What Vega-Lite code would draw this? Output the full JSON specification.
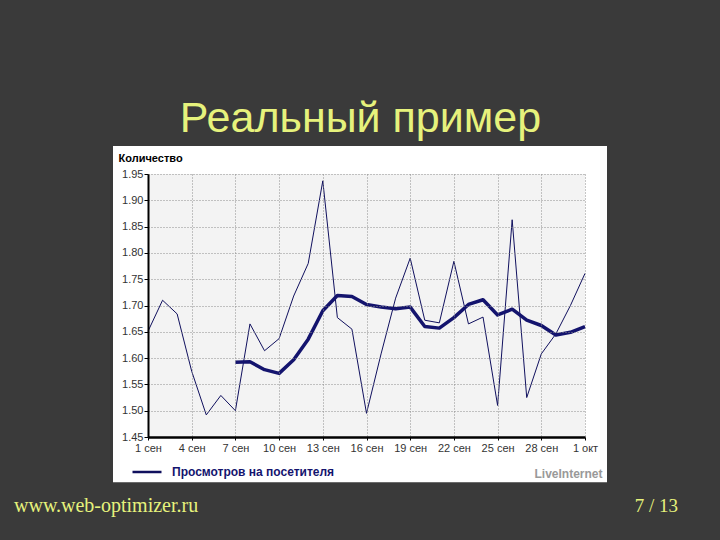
{
  "$schema": "https://vega.github.io/schema/vega-lite/v6.json",
  "width": 437,
  "height": 263,
  "autosize": {"type": "none"},
  "padding": {"left": 148, "top": 174, "right": 135, "bottom": 103},
  "background": "#3a3a3a",
  "title": {
    "text": "Реальный пример",
    "font": "Liberation Sans",
    "fontSize": 43,
    "fontWeight": "normal",
    "color": "#e6f27c",
    "anchor": "middle",
    "dx": -6,
    "offset": -29,
    "baseline": "alphabetic"
  },
  "config": {"view": {"stroke": null}, "axis": {"labelOverlap": false}},
  "datasets": {
    "stats": [
      {"date": "2008-09-01", "views": 1.651, "avg": null},
      {"date": "2008-09-02", "views": 1.710, "avg": null},
      {"date": "2008-09-03", "views": 1.684, "avg": null},
      {"date": "2008-09-04", "views": 1.575, "avg": null},
      {"date": "2008-09-05", "views": 1.492, "avg": null},
      {"date": "2008-09-06", "views": 1.529, "avg": null},
      {"date": "2008-09-07", "views": 1.500, "avg": 1.592},
      {"date": "2008-09-08", "views": 1.665, "avg": 1.593},
      {"date": "2008-09-09", "views": 1.614, "avg": 1.578},
      {"date": "2008-09-10", "views": 1.637, "avg": 1.571},
      {"date": "2008-09-11", "views": 1.718, "avg": 1.597},
      {"date": "2008-09-12", "views": 1.780, "avg": 1.636},
      {"date": "2008-09-13", "views": 1.937, "avg": 1.690},
      {"date": "2008-09-14", "views": 1.677, "avg": 1.719},
      {"date": "2008-09-15", "views": 1.655, "avg": 1.717},
      {"date": "2008-09-16", "views": 1.495, "avg": 1.702},
      {"date": "2008-09-17", "views": 1.608, "avg": 1.697},
      {"date": "2008-09-18", "views": 1.714, "avg": 1.694},
      {"date": "2008-09-19", "views": 1.790, "avg": 1.697},
      {"date": "2008-09-20", "views": 1.672, "avg": 1.660},
      {"date": "2008-09-21", "views": 1.667, "avg": 1.657},
      {"date": "2008-09-22", "views": 1.784, "avg": 1.677},
      {"date": "2008-09-23", "views": 1.665, "avg": 1.702},
      {"date": "2008-09-24", "views": 1.678, "avg": 1.711},
      {"date": "2008-09-25", "views": 1.510, "avg": 1.682},
      {"date": "2008-09-26", "views": 1.863, "avg": 1.693},
      {"date": "2008-09-27", "views": 1.525, "avg": 1.672},
      {"date": "2008-09-28", "views": 1.608, "avg": 1.662},
      {"date": "2008-09-29", "views": 1.646, "avg": 1.644},
      {"date": "2008-09-30", "views": 1.700, "avg": 1.649},
      {"date": "2008-10-01", "views": 1.761, "avg": 1.660}
    ]
  },
  "layer": [
    {
      "data": {"values": [{}]},
      "mark": {"type": "rect", "fill": "#ffffff"},
      "encoding": {
        "x": {"datum": {"year": 2008, "month": 8, "date": 29, "hours": 14, "minutes": 20, "utc": true}, "type": "temporal",
              "scale": {"type": "utc", "domain": [{"year": 2008, "month": 9, "date": 1, "utc": true}, {"year": 2008, "month": 10, "date": 1, "utc": true}], "nice": false},
          "axis": {
            "values": [
              {"year": 2008, "month": 9, "date": 1, "utc": true},
              {"year": 2008, "month": 9, "date": 4, "utc": true},
              {"year": 2008, "month": 9, "date": 7, "utc": true},
              {"year": 2008, "month": 9, "date": 10, "utc": true},
              {"year": 2008, "month": 9, "date": 13, "utc": true},
              {"year": 2008, "month": 9, "date": 16, "utc": true},
              {"year": 2008, "month": 9, "date": 19, "utc": true},
              {"year": 2008, "month": 9, "date": 22, "utc": true},
              {"year": 2008, "month": 9, "date": 25, "utc": true},
              {"year": 2008, "month": 9, "date": 28, "utc": true},
              {"year": 2008, "month": 10, "date": 1, "utc": true}
            ],
            "tickCount": 40,
            "labelExpr": "utcdate(datum.value) + (utcmonth(datum.value) == 8 ? ' сен' : ' окт')",
            "labelFlush": false,
            "labelOverlap": false,
            "labelFont": "Liberation Sans",
            "labelFontSize": 11,
            "labelColor": "#333333",
            "labelPadding": 2,
            "grid": true,
            "gridColor": "#8c8c8c",
            "gridDash": [1, 2],
            "gridWidth": 1,
            "domainColor": "#000000",
            "domainWidth": 2.5,
            "tickColor": "#000000",
            "tickSize": 3,
            "tickWidth": 1,
            "title": "LiveInternet",
            "titleX": 454,
            "titleY": 40,
            "titleAlign": "right",
            "titleAnchor": null,
            "titleBaseline": "alphabetic",
            "titleFont": "Liberation Sans",
            "titleFontSize": 12,
            "titleFontWeight": "bold",
            "titleColor": "#999999",
            "zindex": 1
          }
        },
        "x2": {"datum": {"year": 2008, "month": 10, "date": 2, "hours": 12, "minutes": 15, "utc": true}},
        "y": {"datum": 2.003, "type": "quantitative", "scale": {"domain": [1.45, 1.95], "nice": false, "zero": false},
          "axis": {
            "values": [1.45, 1.5, 1.55, 1.6, 1.65, 1.7, 1.75, 1.8, 1.85, 1.9, 1.95],
            "tickCount": 40,
            "format": ".2f",
            "labelOverlap": false,
            "labelFont": "Liberation Sans",
            "labelFontSize": 11,
            "labelColor": "#333333",
            "labelPadding": 1,
            "grid": true,
            "gridColor": "#8c8c8c",
            "gridDash": [1, 2],
            "gridWidth": 1,
            "domainColor": "#000000",
            "domainWidth": 2,
            "tickColor": "#000000",
            "tickSize": 4,
            "tickWidth": 1,
            "title": "Количество",
            "titleAngle": 0,
            "titleAlign": "left",
            "titleAnchor": null,
            "titleBaseline": "alphabetic",
            "titleX": -30,
            "titleY": -13,
            "titleFont": "Liberation Sans",
            "titleFontSize": 11,
            "titleFontWeight": "bold",
            "titleColor": "#000000",
            "zindex": 1
          }
        },
        "y2": {"datum": 1.364}
      }
    },
    {
      "data": {"values": [{}]},
      "mark": {"type": "rect", "fill": "#f3f3f3"},
      "encoding": {
        "x": {"datum": {"year": 2008, "month": 9, "date": 1, "utc": true}, "type": "temporal",
              "scale": {"type": "utc", "domain": [{"year": 2008, "month": 9, "date": 1, "utc": true}, {"year": 2008, "month": 10, "date": 1, "utc": true}], "nice": false}},
        "x2": {"datum": {"year": 2008, "month": 10, "date": 1, "utc": true}},
        "y": {"datum": 1.95, "type": "quantitative", "scale": {"domain": [1.45, 1.95], "nice": false, "zero": false}},
        "y2": {"datum": 1.45}
      }
    },
    {
      "data": {"name": "stats"},
      "mark": {"type": "line", "strokeWidth": 1, "interpolate": "linear"},
      "encoding": {
        "x": {
          "field": "date", "type": "temporal",
          "scale": {"type": "utc", "domain": [{"year": 2008, "month": 9, "date": 1, "utc": true}, {"year": 2008, "month": 10, "date": 1, "utc": true}], "nice": false}
        },
        "y": {
          "field": "views", "type": "quantitative",
          "scale": {"domain": [1.45, 1.95], "nice": false, "zero": false}
        },
        "color": {
          "datum": "Просмотров на посетителя",
          "type": "nominal",
          "scale": {"range": ["#10105e"]},
          "legend": {
            "orient": "none",
            "legendX": -17,
            "legendY": 282,
            "title": null,
            "padding": 0,
            "symbolType": "stroke",
            "symbolSize": 841,
            "symbolStrokeWidth": 2.5,
            "labelOffset": 9,
            "labelFont": "Liberation Sans",
            "labelFontSize": 12,
            "labelFontWeight": "bold",
            "labelColor": "#14146e",
            "labelLimit": 400
          }
        }
      }
    },
    {
      "data": {"name": "stats"},
      "mark": {"type": "line", "strokeWidth": 3.5, "color": "#14146e", "strokeJoin": "round"},
      "encoding": {
        "x": {"field": "date", "type": "temporal",
              "scale": {"type": "utc", "domain": [{"year": 2008, "month": 9, "date": 1, "utc": true}, {"year": 2008, "month": 10, "date": 1, "utc": true}], "nice": false}},
        "y": {"field": "avg", "type": "quantitative", "scale": {"domain": [1.45, 1.95], "nice": false, "zero": false}}
      }
    },
    {
      "data": {"values": [{"label": "www.web-optimizer.ru"}]},
      "mark": {"type": "text", "align": "left", "baseline": "alphabetic", "font": "Liberation Serif", "fontSize": 20, "color": "#e6f27c"},
      "encoding": {
        "x": {"datum": {"year": 2008, "month": 8, "date": 22, "hours": 19, "minutes": 13, "utc": true}, "type": "temporal",
              "scale": {"type": "utc", "domain": [{"year": 2008, "month": 9, "date": 1, "utc": true}, {"year": 2008, "month": 10, "date": 1, "utc": true}], "nice": false}},
        "y": {"datum": 1.307, "type": "quantitative", "scale": {"domain": [1.45, 1.95], "nice": false, "zero": false}},
        "text": {"field": "label"}
      }
    },
    {
      "data": {"values": [{"label": "7 / 13"}]},
      "mark": {"type": "text", "align": "right", "baseline": "alphabetic", "font": "Liberation Serif", "fontSize": 19, "color": "#e6f27c"},
      "encoding": {
        "x": {"datum": {"year": 2008, "month": 10, "date": 7, "hours": 9, "minutes": 7, "utc": true}, "type": "temporal",
              "scale": {"type": "utc", "domain": [{"year": 2008, "month": 9, "date": 1, "utc": true}, {"year": 2008, "month": 10, "date": 1, "utc": true}], "nice": false}},
        "y": {"datum": 1.307, "type": "quantitative", "scale": {"domain": [1.45, 1.95], "nice": false, "zero": false}},
        "text": {"field": "label"}
      }
    }
  ]
}
